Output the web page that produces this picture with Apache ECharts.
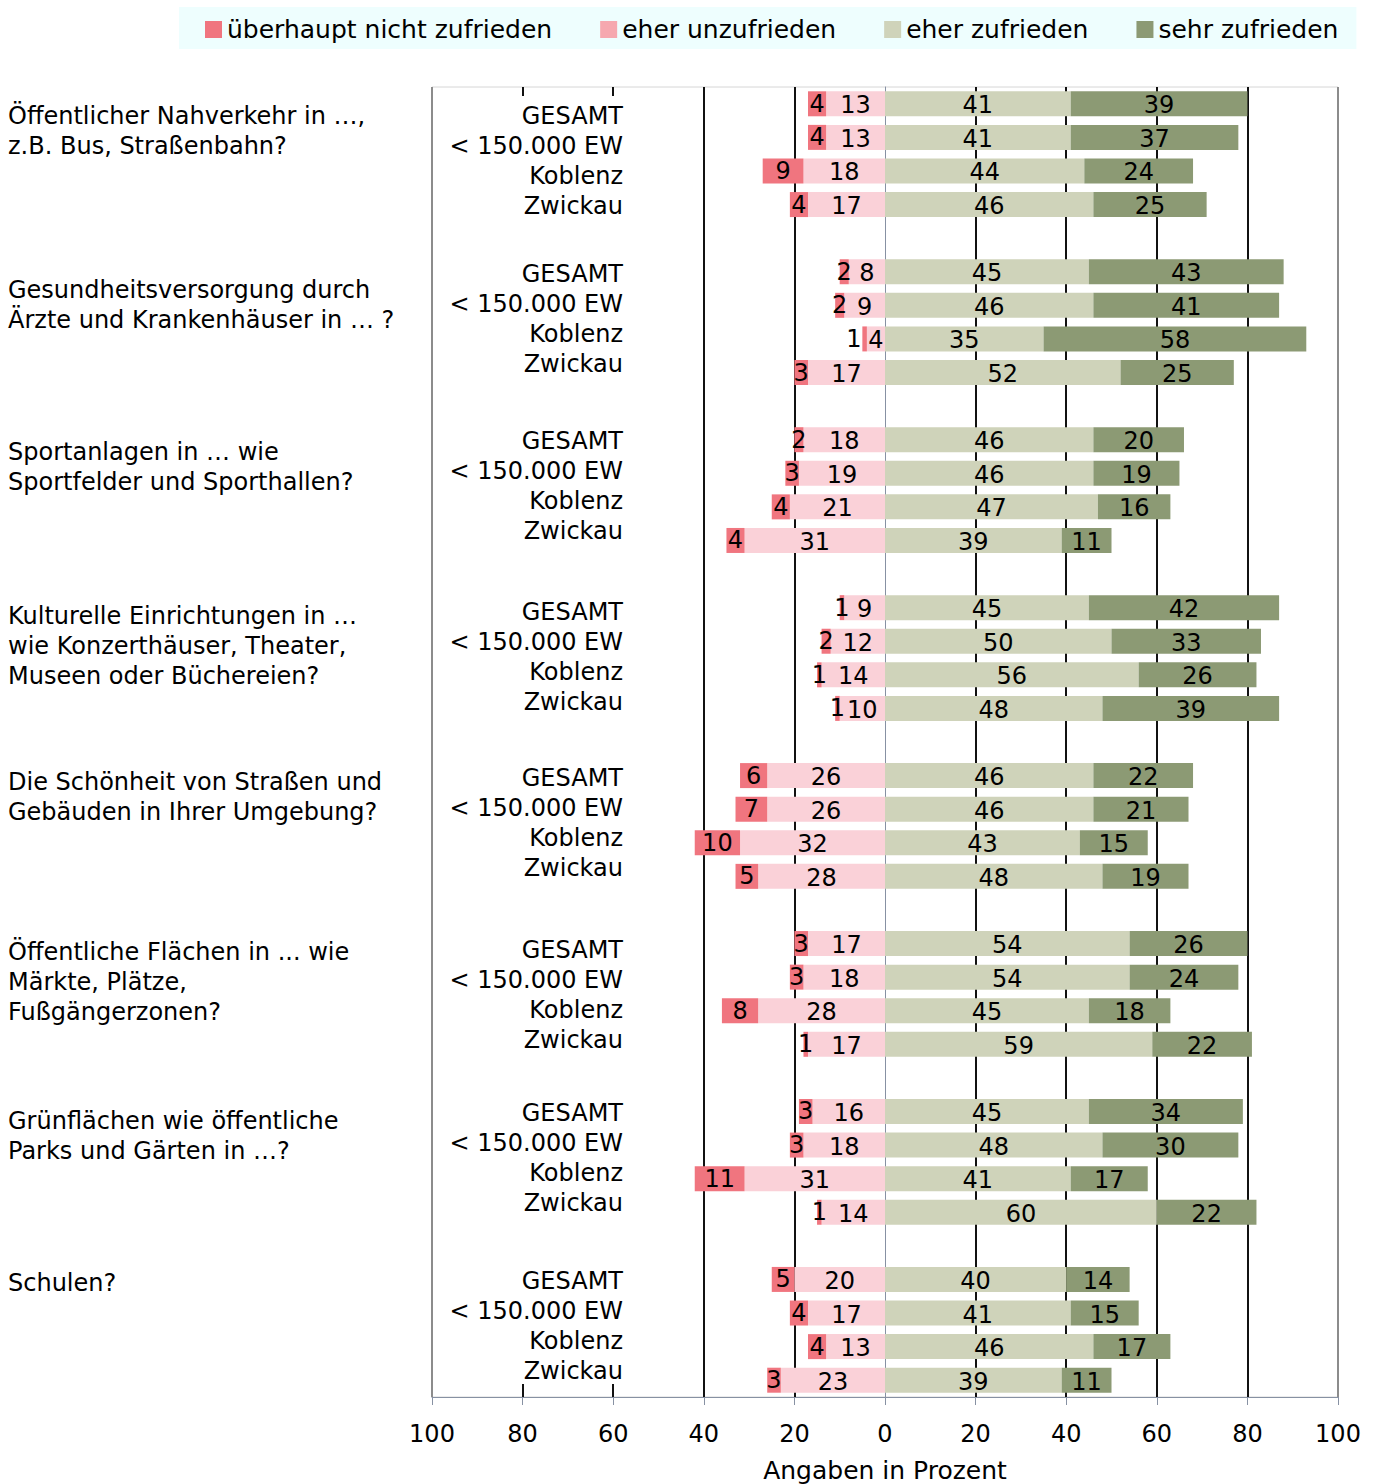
<!DOCTYPE html>
<html><head><meta charset="utf-8">
<script src="https://cdn.jsdelivr.net/npm/echarts@6/dist/echarts.min.js"></script>
<style>html,body{margin:0;padding:0;background:#fff}#c{width:1380px;height:1484px}</style>
</head><body><div id="c"></div>
<script>
// ---------- DATA ----------
const questions = [
  'Öffentlicher Nahverkehr in …,\nz.B. Bus, Straßenbahn?',
  'Gesundheitsversorgung durch\nÄrzte und Krankenhäuser in … ?',
  'Sportanlagen in … wie\nSportfelder und Sporthallen?',
  'Kulturelle Einrichtungen in …\nwie Konzerthäuser, Theater,\nMuseen oder Büchereien?',
  'Die Schönheit von Straßen und\nGebäuden in Ihrer Umgebung?',
  'Öffentliche Flächen in ... wie\nMärkte, Plätze,\nFußgängerzonen?',
  'Grünflächen wie öffentliche\nParks und Gärten in …?',
  'Schulen?'
];
const subgroups = ['GESAMT', '< 150.000 EW', 'Koblenz', 'Zwickau'];
const seriesNames = ['überhaupt nicht zufrieden', 'eher unzufrieden', 'eher zufrieden', 'sehr zufrieden'];
// values per row: group by group, rows GESAMT, <150.000 EW, Koblenz, Zwickau
const ueberhauptNicht = [4,4,9,4, 2,2,1,3, 2,3,4,4, 1,2,1,1, 6,7,10,5, 3,3,8,1, 3,3,11,1, 5,4,4,3];
const eherUnzufrieden = [13,13,18,17, 8,9,4,17, 18,19,21,31, 9,12,14,10, 26,26,32,28, 17,18,28,17, 16,18,31,14, 20,17,13,23];
const eherZufrieden   = [41,41,44,46, 45,46,35,52, 46,46,47,39, 45,50,56,48, 46,46,43,48, 54,54,45,59, 45,48,41,60, 40,41,46,39];
const sehrZufrieden   = [39,37,24,25, 43,41,58,25, 20,19,16,11, 42,33,26,39, 22,21,15,19, 26,24,18,22, 34,30,17,22, 14,15,17,11];
const axisMin = -100, axisMax = 100, axisStep = 20;
const axisTitle = 'Angaben in Prozent';

// ---------- LAYOUT / STYLE ----------
const FONT = '"DejaVu Sans", Verdana, sans-serif';
const C_RED = '#F0757F', C_PINK = '#FAD1D8', C_PINK_LEG = '#F6A8AF', C_LOLIVE = '#CFD3BA', C_DOLIVE = '#8C9A74';
const subOff = [12, 2, 1, 4, 2, 6, 2, 2];      // first sub-label line offset from first bar centre
const qOff   = [12, 18, 12, 8, 6, 8, 10, 4];   // first question line offset from first bar centre
const LINE = 30;

// build category slots (4 rows per group + a spacer between groups)
const cats = [];
const rowIndex = [];
questions.forEach((q, g) => {
  subgroups.forEach((s, k) => { rowIndex.push(cats.length); cats.push('r' + g + '_' + k); });
  if (g < questions.length - 1) cats.push('gap' + g);
});
function slotData(arr, sign) {
  const out = cats.map(() => null);
  arr.forEach((v, i) => { out[rowIndex[i]] = sign * v; });
  return out;
}

const labelBase = {
  show: true, position: 'inside', color: '#000', fontSize: 24, fontFamily: FONT, offset: [0, 1.5],
  formatter: p => (p.value == null ? '' : String(Math.abs(p.value)))
};
// split line colours per tick (-100 … 100)
const splitColors = [];
for (let v = axisMin; v <= axisMax; v += axisStep) {
  if (v === axisMin || v === axisMax) splitColors.push('#8c8c8c');
  else if (v === 0 || v === -80 || v === -60) splitColors.push('rgba(0,0,0,0)');
  else splitColors.push('#111');
}

const chart = echarts.init(document.getElementById('c'), null, { renderer: 'svg' });
const option = {
  animation: false,
  backgroundColor: '#fff',
  textStyle: { fontFamily: FONT },
  legend: {
    left: 179, top: 7,
    padding: [10, 18, 7, 26],
    backgroundColor: '#EEFEFE',
    itemWidth: 17, itemHeight: 17, itemGap: 48,
    icon: 'rect',
    textStyle: { fontSize: 25, color: '#000', fontFamily: FONT },
    data: [
      { name: seriesNames[0], itemStyle: { color: C_RED } },
      { name: seriesNames[1], itemStyle: { color: C_PINK_LEG } },
      { name: seriesNames[2], itemStyle: { color: C_LOLIVE } },
      { name: seriesNames[3], itemStyle: { color: C_DOLIVE } }
    ],
    selectedMode: false
  },
  grid: { left: 432, right: 42, top: 87, bottom: 87, show: true, borderColor: '#d6d6d6', borderWidth: 1,
          containLabel: false, outerBoundsMode: 'none' },
  xAxis: {
    type: 'value', min: axisMin, max: axisMax, interval: axisStep,
    axisLine: { show: true, lineStyle: { color: '#8791A3', width: 1 } },
    axisTick: { show: true, length: 8, lineStyle: { color: '#8791A3' } },
    axisLabel: { fontSize: 24, color: '#000', fontFamily: FONT, margin: 25, formatter: v => String(Math.abs(v)) },
    splitLine: { show: true, lineStyle: { color: splitColors, width: 2 } },
    name: axisTitle, nameLocation: 'middle', nameGap: 61,
    nameTextStyle: { fontSize: 25, color: '#000', fontFamily: FONT }
  },
  yAxis: {
    type: 'category', data: cats, inverse: true,
    axisLine: { show: true, onZero: true, lineStyle: { color: '#8791A3', width: 1 } },
    axisTick: { show: false }, axisLabel: { show: false }, splitLine: { show: false }
  },
  series: [
    { name: seriesNames[1], type: 'bar', stack: 'all', barWidth: 25, data: slotData(eherUnzufrieden, -1),
      itemStyle: { color: C_PINK }, label: labelBase },
    { name: seriesNames[0], type: 'bar', stack: 'all', barWidth: 25, data: slotData(ueberhauptNicht, -1),
      itemStyle: { color: C_RED }, label: labelBase,
      labelLayout: p => {
        const row = rowIndex.indexOf(p.dataIndex);
        if (row >= 0 && eherUnzufrieden[row] <= 5) return { dx: -(p.labelRect.width / 2 + 3) };
        return {};
      } },
    { name: seriesNames[2], type: 'bar', stack: 'all', barWidth: 25, data: slotData(eherZufrieden, 1),
      itemStyle: { color: C_LOLIVE }, label: labelBase },
    { name: seriesNames[3], type: 'bar', stack: 'all', barWidth: 25, data: slotData(sehrZufrieden, 1),
      itemStyle: { color: C_DOLIVE }, label: labelBase }
  ]
};
chart.setOption(option);

// ---------- text blocks and short tick marks, positioned from the axes ----------
const yOf = i => chart.convertToPixel({ yAxisIndex: 0 }, cats[i]);
const slotH = yOf(1) - yOf(0);
const plotTop = yOf(0) - slotH / 2, plotBottom = yOf(cats.length - 1) + slotH / 2;
const graphics = [];
questions.forEach((q, g) => {
  const y0 = yOf(rowIndex[g * 4]);
  subgroups.forEach((s, k) => {
    graphics.push({ type: 'text', silent: true, style: {
      text: s, x: 623, y: y0 + subOff[g] + LINE * k, align: 'right', verticalAlign: 'middle',
      fontSize: 24, fontFamily: FONT, fill: '#000' } });
  });
  graphics.push({ type: 'text', silent: true, style: {
    text: q, x: 8, y: y0 + qOff[g] - LINE / 2, align: 'left', verticalAlign: 'top', lineHeight: LINE,
    fontSize: 24, fontFamily: FONT, fill: '#000' } });
});
[-80, -60].forEach(v => {
  const x = Math.round(chart.convertToPixel({ xAxisIndex: 0 }, v));
  graphics.push({ type: 'line', silent: true, shape: { x1: x, y1: plotTop, x2: x, y2: plotTop + 9 }, style: { stroke: '#111', lineWidth: 2 } });
  graphics.push({ type: 'line', silent: true, shape: { x1: x, y1: plotBottom - 13, x2: x, y2: plotBottom }, style: { stroke: '#111', lineWidth: 2 } });
});
chart.setOption({ graphic: graphics });
</script>
</body></html>
